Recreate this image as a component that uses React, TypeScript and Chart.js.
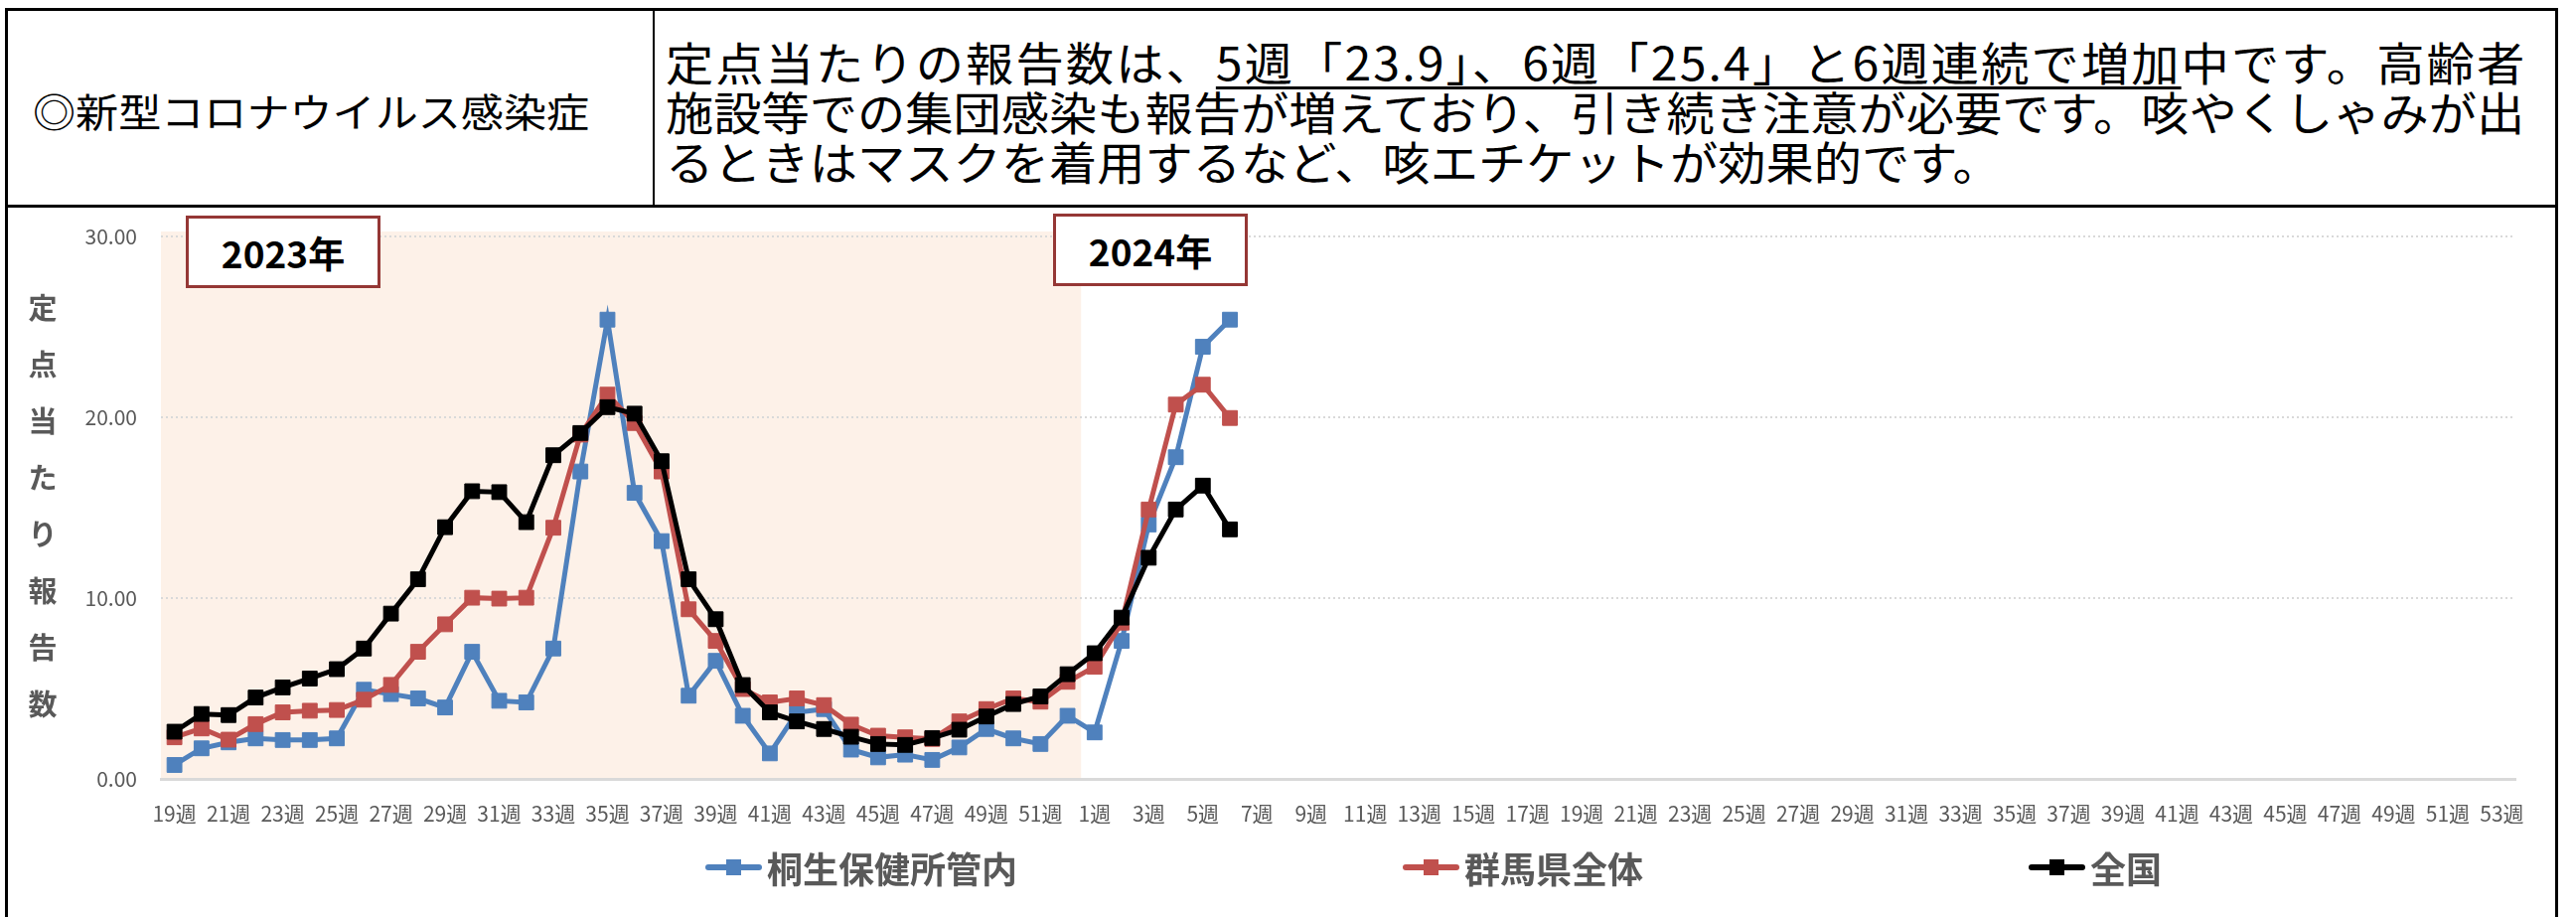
import React, { useEffect, useRef } from 'react';
import { Chart, registerables } from 'chart.js';

Chart.register(...registerables);

// ---- data ----
const weeks2023 = [19, 20, 21, 22, 23, 24, 25, 26, 27, 28, 29, 30, 31, 32, 33, 34, 35, 36, 37, 38, 39, 40, 41, 42, 43, 44, 45, 46, 47, 48, 49, 50, 51, 52];
const weeks2024 = [1, 2, 3, 4, 5, 6, 7, 8, 9, 10, 11, 12, 13, 14, 15, 16, 17, 18, 19, 20, 21, 22, 23, 24, 25, 26, 27, 28, 29, 30, 31, 32, 33, 34, 35, 36, 37, 38, 39, 40, 41, 42, 43, 44, 45, 46, 47, 48, 49, 50, 51, 52, 53];

const kiryu = [0.77, 1.69, 2.02, 2.24, 2.15, 2.15, 2.24, 4.93, 4.69, 4.45, 3.95, 7.03, 4.32, 4.23, 7.21, 17.0, 25.4, 15.82, 13.15, 4.6, 6.53, 3.49, 1.41, 3.68, 3.86, 1.62, 1.19, 1.34, 1.05, 1.74, 2.76, 2.24, 1.93, 3.49, 2.57, 7.63, 14.07, 17.79, 23.9, 25.4];
const gunma = [2.3, 2.79, 2.17, 3.03, 3.68, 3.77, 3.81, 4.38, 5.2, 7.03, 8.55, 10.02, 9.97, 10.02, 13.89, 19.04, 21.25, 19.68, 17.0, 9.38, 7.63, 4.97, 4.23, 4.45, 4.08, 3.0, 2.39, 2.3, 2.21, 3.18, 3.86, 4.45, 4.27, 5.37, 6.2, 8.64, 14.9, 20.7, 21.8, 19.96];
const zenkoku = [2.61, 3.59, 3.53, 4.5, 5.06, 5.55, 6.07, 7.21, 9.14, 11.04, 13.92, 15.91, 15.86, 14.2, 17.9, 19.13, 20.56, 20.2, 17.57, 11.04, 8.83, 5.19, 3.68, 3.18, 2.76, 2.33, 1.93, 1.88, 2.26, 2.72, 3.45, 4.14, 4.56, 5.79, 6.95, 8.92, 12.23, 14.9, 16.22, 13.8];

const seriesNames = ['桐生保健所管内', '群馬県全体', '全国'];
const seriesColors = ['#4F81BD', '#C0504D', '#000000'];
const yTicks = [0, 10, 20, 30];
const yTitleChars = ['定', '点', '当', 'た', 'り', '報', '告', '数'];

const labels = [...weeks2023, ...weeks2024].map((w) => `${w}週`);

const FONT = '"Noto Sans CJK JP", "Noto Sans", sans-serif';

const shadePlugin = {
  id: 'shade2023',
  beforeDraw(chart: any) {
    const { ctx, chartArea, scales } = chart;
    const x = scales.x;
    const y = scales.y;
    const half = (x.getPixelForValue(1) - x.getPixelForValue(0)) / 2;
    const x0 = x.getPixelForValue(0) - half;
    const x1 = x.getPixelForValue(weeks2023.length - 1) + half;
    const top = y.getPixelForValue(yTicks[yTicks.length - 1]) - 5;
    ctx.save();
    ctx.fillStyle = '#FDF1E8';
    ctx.fillRect(x0, top, x1 - x0, chartArea.bottom - top);
    ctx.restore();
  },
};

const yTitlePlugin = {
  id: 'yTitleVertical',
  afterDraw(chart: any) {
    const { ctx, chartArea } = chart;
    ctx.save();
    ctx.fillStyle = '#595959';
    ctx.font = `bold 29px ${FONT}`;
    ctx.textAlign = 'center';
    ctx.textBaseline = 'middle';
    yTitleChars.forEach((c, k) => {
      ctx.fillText(c, 33, chartArea.top + 72 + k * 57);
    });
    ctx.restore();
  },
};

function ChartCanvas() {
  const ref = useRef<HTMLCanvasElement | null>(null);
  useEffect(() => {
    if (!ref.current) return;
    const data = [kiryu, gunma, zenkoku];
    const chart = new Chart(ref.current, {
      type: 'line',
      data: {
        labels,
        datasets: seriesNames.map((name, i) => ({
          label: name,
          data: data[i],
          borderColor: seriesColors[i],
          backgroundColor: seriesColors[i],
          pointBackgroundColor: seriesColors[i],
          pointBorderColor: seriesColors[i],
          borderWidth: 5,
          pointStyle: 'rect',
          pointRadius: 10.5,
          pointBorderWidth: 1,
          tension: 0,
          fill: false,
          order: 3 - i,
        })),
      },
      options: {
        animation: false,
        responsive: false,
        maintainAspectRatio: false,
        devicePixelRatio: 1,
        layout: { padding: { left: 0, right: 38, top: 28, bottom: 0 } },
        plugins: { legend: { display: false }, tooltip: { enabled: false } },
        scales: {
          x: {
            offset: true,
            grid: { display: false, drawTicks: false },
            border: { display: true, color: '#D9D9D9', width: 3 },
            ticks: {
              autoSkip: false,
              maxRotation: 0,
              minRotation: 0,
              padding: 22,
              color: '#595959',
              font: { family: FONT, size: 21 },
              callback: (_v: any, i: number) => (i % 2 === 0 ? labels[i] : ''),
            },
            afterFit: (s: any) => {
              s.height = 139;
              s.paddingLeft = 0;
              s.paddingRight = 0;
            },
          },
          y: {
            min: 0,
            max: 30,
            ticks: {
              stepSize: 10,
              padding: 24,
              color: '#595959',
              font: { family: FONT, size: 21 },
              callback: (v: any) => Number(v).toFixed(2),
            },
            grid: { color: '#D9D9D9', lineWidth: 2, drawTicks: false },
            border: { display: false, dash: [2, 3] },
            afterFit: (s: any) => {
              s.width = 152;
              s.paddingTop = 0;
              s.paddingBottom = 0;
            },
          },
        },
      },
      plugins: [shadePlugin, yTitlePlugin],
    } as any);
    return () => chart.destroy();
  }, []);
  return (
    <canvas
      ref={ref}
      width={2560}
      height={713}
      style={{ position: 'absolute', left: 10, top: 210, width: 2560, height: 713 }}
    />
  );
}

function YearBox({ text, left, top }: { text: string; left: number; top: number }) {
  return (
    <div
      style={{
        position: 'absolute',
        left,
        top,
        width: 196,
        height: 73,
        boxSizing: 'border-box',
        border: '3px solid #953735',
        background: '#FFFFFF',
        display: 'flex',
        alignItems: 'center',
        justifyContent: 'center',
        fontFamily: FONT,
        fontWeight: 700,
        fontSize: 37,
        color: '#000',
      }}
    >
      {text}
    </div>
  );
}

function LegendItem({ name, color }: { name: string; color: string }) {
  return (
    <div style={{ display: 'flex', alignItems: 'center' }}>
      <div style={{ position: 'relative', width: 57, height: 6, background: color, borderRadius: 3 }}>
        <div style={{ position: 'absolute', left: 21, top: -5, width: 15, height: 16, background: color }} />
      </div>
      <span style={{ marginLeft: 5, fontFamily: FONT, fontWeight: 700, fontSize: 36, color: '#595959', lineHeight: '50px' }}>
        {name}
      </span>
    </div>
  );
}

export default function App() {
  const ul: React.CSSProperties = { textDecoration: 'underline', textDecorationThickness: 3, textUnderlineOffset: 6 };
  return (
    <div style={{ position: 'absolute', left: 0, top: 0, width: 2593, height: 923, overflow: 'hidden', background: '#fff' }}>
      <div
        style={{
          position: 'absolute',
          left: 5,
          top: 8,
          width: 2570,
          height: 1000,
          boxSizing: 'border-box',
          border: '3px solid #000',
        }}
      />
      <div style={{ position: 'absolute', left: 5, top: 206, width: 2570, height: 3, background: '#000' }} />
      <div style={{ position: 'absolute', left: 657, top: 8, width: 2, height: 200, background: '#000' }} />
      <div
        style={{
          position: 'absolute',
          left: 33,
          top: 86,
          whiteSpace: 'nowrap',
          fontFamily: FONT,
          fontSize: 40,
          lineHeight: '50px',
          color: '#000',
          transform: 'scaleX(1.077)',
          transformOrigin: 'left center',
        }}
      >
        ◎新型コロナウイルス感染症
      </div>
      <div
        style={{
          position: 'absolute',
          left: 670,
          top: 36,
          whiteSpace: 'nowrap',
          fontFamily: FONT,
          fontSize: 46,
          lineHeight: '50px',
          color: '#000',
          transform: 'scaleX(1.049)',
          transformOrigin: 'left top',
        }}
      >
        <span style={{ letterSpacing: 2 }}>
          定点当たりの報告数は、
          <span style={ul}>5週「23.9」、6週「25.4」と6週連続で増加</span>
          中です。高齢者
        </span>
        <br />
        施設等での集団感染も報告が増えており、引き続き注意が必要です。咳やくしゃみが出
        <br />
        るときはマスクを着用するなど、咳エチケットが効果的です。
      </div>
      <ChartCanvas />
      <YearBox text="2023年" left={187} top={217} />
      <YearBox text="2024年" left={1060} top={215} />
      <div style={{ position: 'absolute', left: 710, top: 848, display: 'flex', gap: 388 }}>
        {seriesNames.map((n, i) => (
          <LegendItem key={n} name={n} color={seriesColors[i]} />
        ))}
      </div>
    </div>
  );
}
